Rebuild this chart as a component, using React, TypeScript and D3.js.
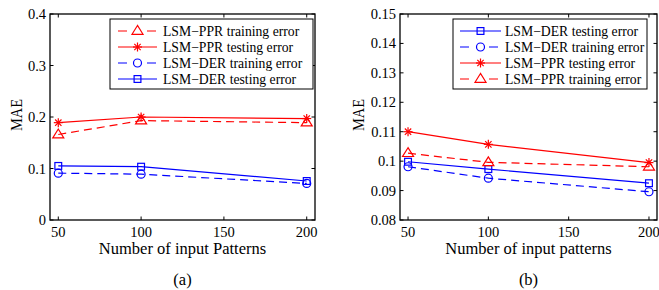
import React from "react";
import * as d3 from "d3";

const xValues = [50, 100, 200];
const xTicks = [50, 100, 150, 200];

// Panel (a)
const aPprTrain = [0.166, 0.193, 0.189];
const aPprTest = [0.189, 0.2, 0.197];
const aDerTrain = [0.091, 0.089, 0.071];
const aDerTest = [0.105, 0.1035, 0.0757];
const aYTicks = [0, 0.1, 0.2, 0.3, 0.4];
const aYLabels = ["0", "0.1", "0.2", "0.3", "0.4"];

// Panel (b)
const bDerTest = [0.0998, 0.0973, 0.0925];
const bDerTrain = [0.0981, 0.0942, 0.0896];
const bPprTest = [0.11, 0.1057, 0.0995];
const bPprTrain = [0.1027, 0.0996, 0.0981];
const bYTicks = [0.08, 0.09, 0.1, 0.11, 0.12, 0.13, 0.14, 0.15];
const bYLabels = ["0.08", "0.09", "0.1", "0.11", "0.12", "0.13", "0.14", "0.15"];

const RED = "#ff0000";
const BLUE = "#0000ff";
const FONT = "Liberation Serif, DejaVu Serif, Times New Roman, serif";

type Series = { name: string; values: number[]; color: string; dashed: boolean; marker: string };

const seriesA: Series[] = [
  { name: "LSM\u2212PPR training error", values: aPprTrain, color: RED, dashed: true, marker: "triangle" },
  { name: "LSM\u2212PPR testing error", values: aPprTest, color: RED, dashed: false, marker: "star" },
  { name: "LSM\u2212DER training error", values: aDerTrain, color: BLUE, dashed: true, marker: "circle" },
  { name: "LSM\u2212DER testing error", values: aDerTest, color: BLUE, dashed: false, marker: "square" },
];
const seriesB: Series[] = [
  { name: "LSM\u2212DER testing error", values: bDerTest, color: BLUE, dashed: false, marker: "square" },
  { name: "LSM\u2212DER training error", values: bDerTrain, color: BLUE, dashed: true, marker: "circle" },
  { name: "LSM\u2212PPR testing error", values: bPprTest, color: RED, dashed: false, marker: "star" },
  { name: "LSM\u2212PPR training error", values: bPprTrain, color: RED, dashed: true, marker: "triangle" },
];

function Marker({ kind, x, y, color }: { kind: string; x: number; y: number; color: string }) {
  const sw = 1.2;
  if (kind === "triangle") {
    const r = 5.5;
    const pts = `${x},${y - r} ${x - r},${y + r * 0.6} ${x + r},${y + r * 0.6}`;
    return <polygon points={pts} fill="none" stroke={color} strokeWidth={sw} />;
  }
  if (kind === "circle") {
    return <circle cx={x} cy={y} r={4} fill="none" stroke={color} strokeWidth={sw} />;
  }
  if (kind === "square") {
    const s = 3.4;
    return <rect x={x - s} y={y - s} width={2 * s} height={2 * s} fill="none" stroke={color} strokeWidth={sw} />;
  }
  const r = 4.5;
  const d = r * 0.707;
  return (
    <g stroke={color} strokeWidth={sw}>
      <line x1={x - r} y1={y} x2={x + r} y2={y} />
      <line x1={x} y1={y - r} x2={x} y2={y + r} />
      <line x1={x - d} y1={y - d} x2={x + d} y2={y + d} />
      <line x1={x - d} y1={y + d} x2={x + d} y2={y - d} />
    </g>
  );
}

type PanelProps = {
  left: number;
  right: number;
  top: number;
  bottom: number;
  yDomain: [number, number];
  yTicks: number[];
  yLabels: string[];
  yLabelX: number;
  series: Series[];
  xLabel: string;
  caption: string;
  legend: { x0: number; x1: number; y0: number; y1: number; lineX0: number; lineX1: number; textX: number; rows: number[] };
};

function Panel(p: PanelProps) {
  const x = d3.scaleLinear().domain([45, 205]).range([p.left, p.right]);
  const y = d3.scaleLinear().domain(p.yDomain).range([p.bottom, p.top]);
  const line = d3
    .line<number>()
    .x((_, i) => x(xValues[i]))
    .y((v) => y(v));
  const tl = 3.5;
  const cx = (p.left + p.right) / 2;
  const lg = p.legend;
  const mX = (lg.lineX0 + lg.lineX1) / 2;
  return (
    <g style={{ fontFamily: FONT }}>
      {p.series.map((s, si) => (
        <g key={si}>
          <path
            d={line(s.values) || ""}
            fill="none"
            stroke={s.color}
            strokeWidth={1.2}
            strokeDasharray={s.dashed ? "8,5" : undefined}
          />
          {s.values.map((v, i) => (
            <Marker key={i} kind={s.marker} x={x(xValues[i])} y={y(v)} color={s.color} />
          ))}
        </g>
      ))}
      {xTicks.map((t) => (
        <g key={"xt" + t}>
          <line x1={x(t)} x2={x(t)} y1={p.bottom} y2={p.bottom - tl} stroke="#000" strokeWidth={1} />
          <line x1={x(t)} x2={x(t)} y1={p.top} y2={p.top + tl} stroke="#000" strokeWidth={1} />
          <text x={x(t)} y={p.bottom + 17} fontSize={14.5} textAnchor="middle" fill="#000">
            {t}
          </text>
        </g>
      ))}
      {p.yTicks.map((t, i) => (
        <g key={"yt" + i}>
          <line x1={p.left} x2={p.left + tl} y1={y(t)} y2={y(t)} stroke="#000" strokeWidth={1} />
          <line x1={p.right} x2={p.right - tl} y1={y(t)} y2={y(t)} stroke="#000" strokeWidth={1} />
          <text x={p.left - 4} y={y(t) + 5} fontSize={14.5} textAnchor="end" fill="#000">
            {p.yLabels[i]}
          </text>
        </g>
      ))}
      <rect
        x={p.left}
        y={p.top}
        width={p.right - p.left}
        height={p.bottom - p.top}
        fill="none"
        stroke="#000"
        strokeWidth={1.3}
      />
      <text x={cx} y={p.bottom + 34} fontSize={16.5} textAnchor="middle" fill="#000">
        {p.xLabel}
      </text>
      <text
        transform={`translate(${p.yLabelX},${(p.top + p.bottom) / 2 - 2}) rotate(-90)`}
        fontSize={17}
        textAnchor="middle"
        textLength={32}
        lengthAdjust="spacingAndGlyphs"
        fill="#000"
      >
        MAE
      </text>
      <text x={cx} y={p.bottom + 65} fontSize={16.5} textAnchor="middle" fill="#000">
        {p.caption}
      </text>
      <rect x={lg.x0} y={lg.y0} width={lg.x1 - lg.x0} height={lg.y1 - lg.y0} fill="#fff" stroke="#000" strokeWidth={1} />
      {p.series.map((s, i) => (
        <g key={"lg" + i}>
          <line
            x1={lg.lineX0}
            x2={lg.lineX1}
            y1={lg.rows[i]}
            y2={lg.rows[i]}
            stroke={s.color}
            strokeWidth={1.2}
            strokeDasharray={s.dashed ? "9,20" : undefined}
          />
          <Marker kind={s.marker} x={mX} y={lg.rows[i]} color={s.color} />
          <text x={lg.textX} y={lg.rows[i] + 4.5} fontSize={13.7} fill="#000">
            {s.name}
          </text>
        </g>
      ))}
    </g>
  );
}

export default function App() {
  return (
    <svg width={659} height={290} style={{ position: "fixed", left: 0, top: 0, background: "#fff" }}>
      <rect x={0} y={0} width={659} height={290} fill="#fff" />
      <Panel
        left={50}
        right={315}
        top={14}
        bottom={220}
        yDomain={[0, 0.4]}
        yTicks={aYTicks}
        yLabels={aYLabels}
        yLabelX={22}
        series={seriesA}
        xLabel="Number of input Patterns"
        caption="(a)"
        legend={{ x0: 110, x1: 313, y0: 19, y1: 89, lineX0: 118, lineX1: 157, textX: 163, rows: [31, 47, 63, 79] }}
      />
      <Panel
        left={400}
        right={657}
        top={14}
        bottom={220}
        yDomain={[0.08, 0.15]}
        yTicks={bYTicks}
        yLabels={bYLabels}
        yLabelX={364}
        series={seriesB}
        xLabel="Number of input patterns"
        caption="(b)"
        legend={{ x0: 453, x1: 647, y0: 19, y1: 89, lineX0: 460, lineX1: 501, textX: 505, rows: [31, 47, 63, 79] }}
      />
    </svg>
  );
}
